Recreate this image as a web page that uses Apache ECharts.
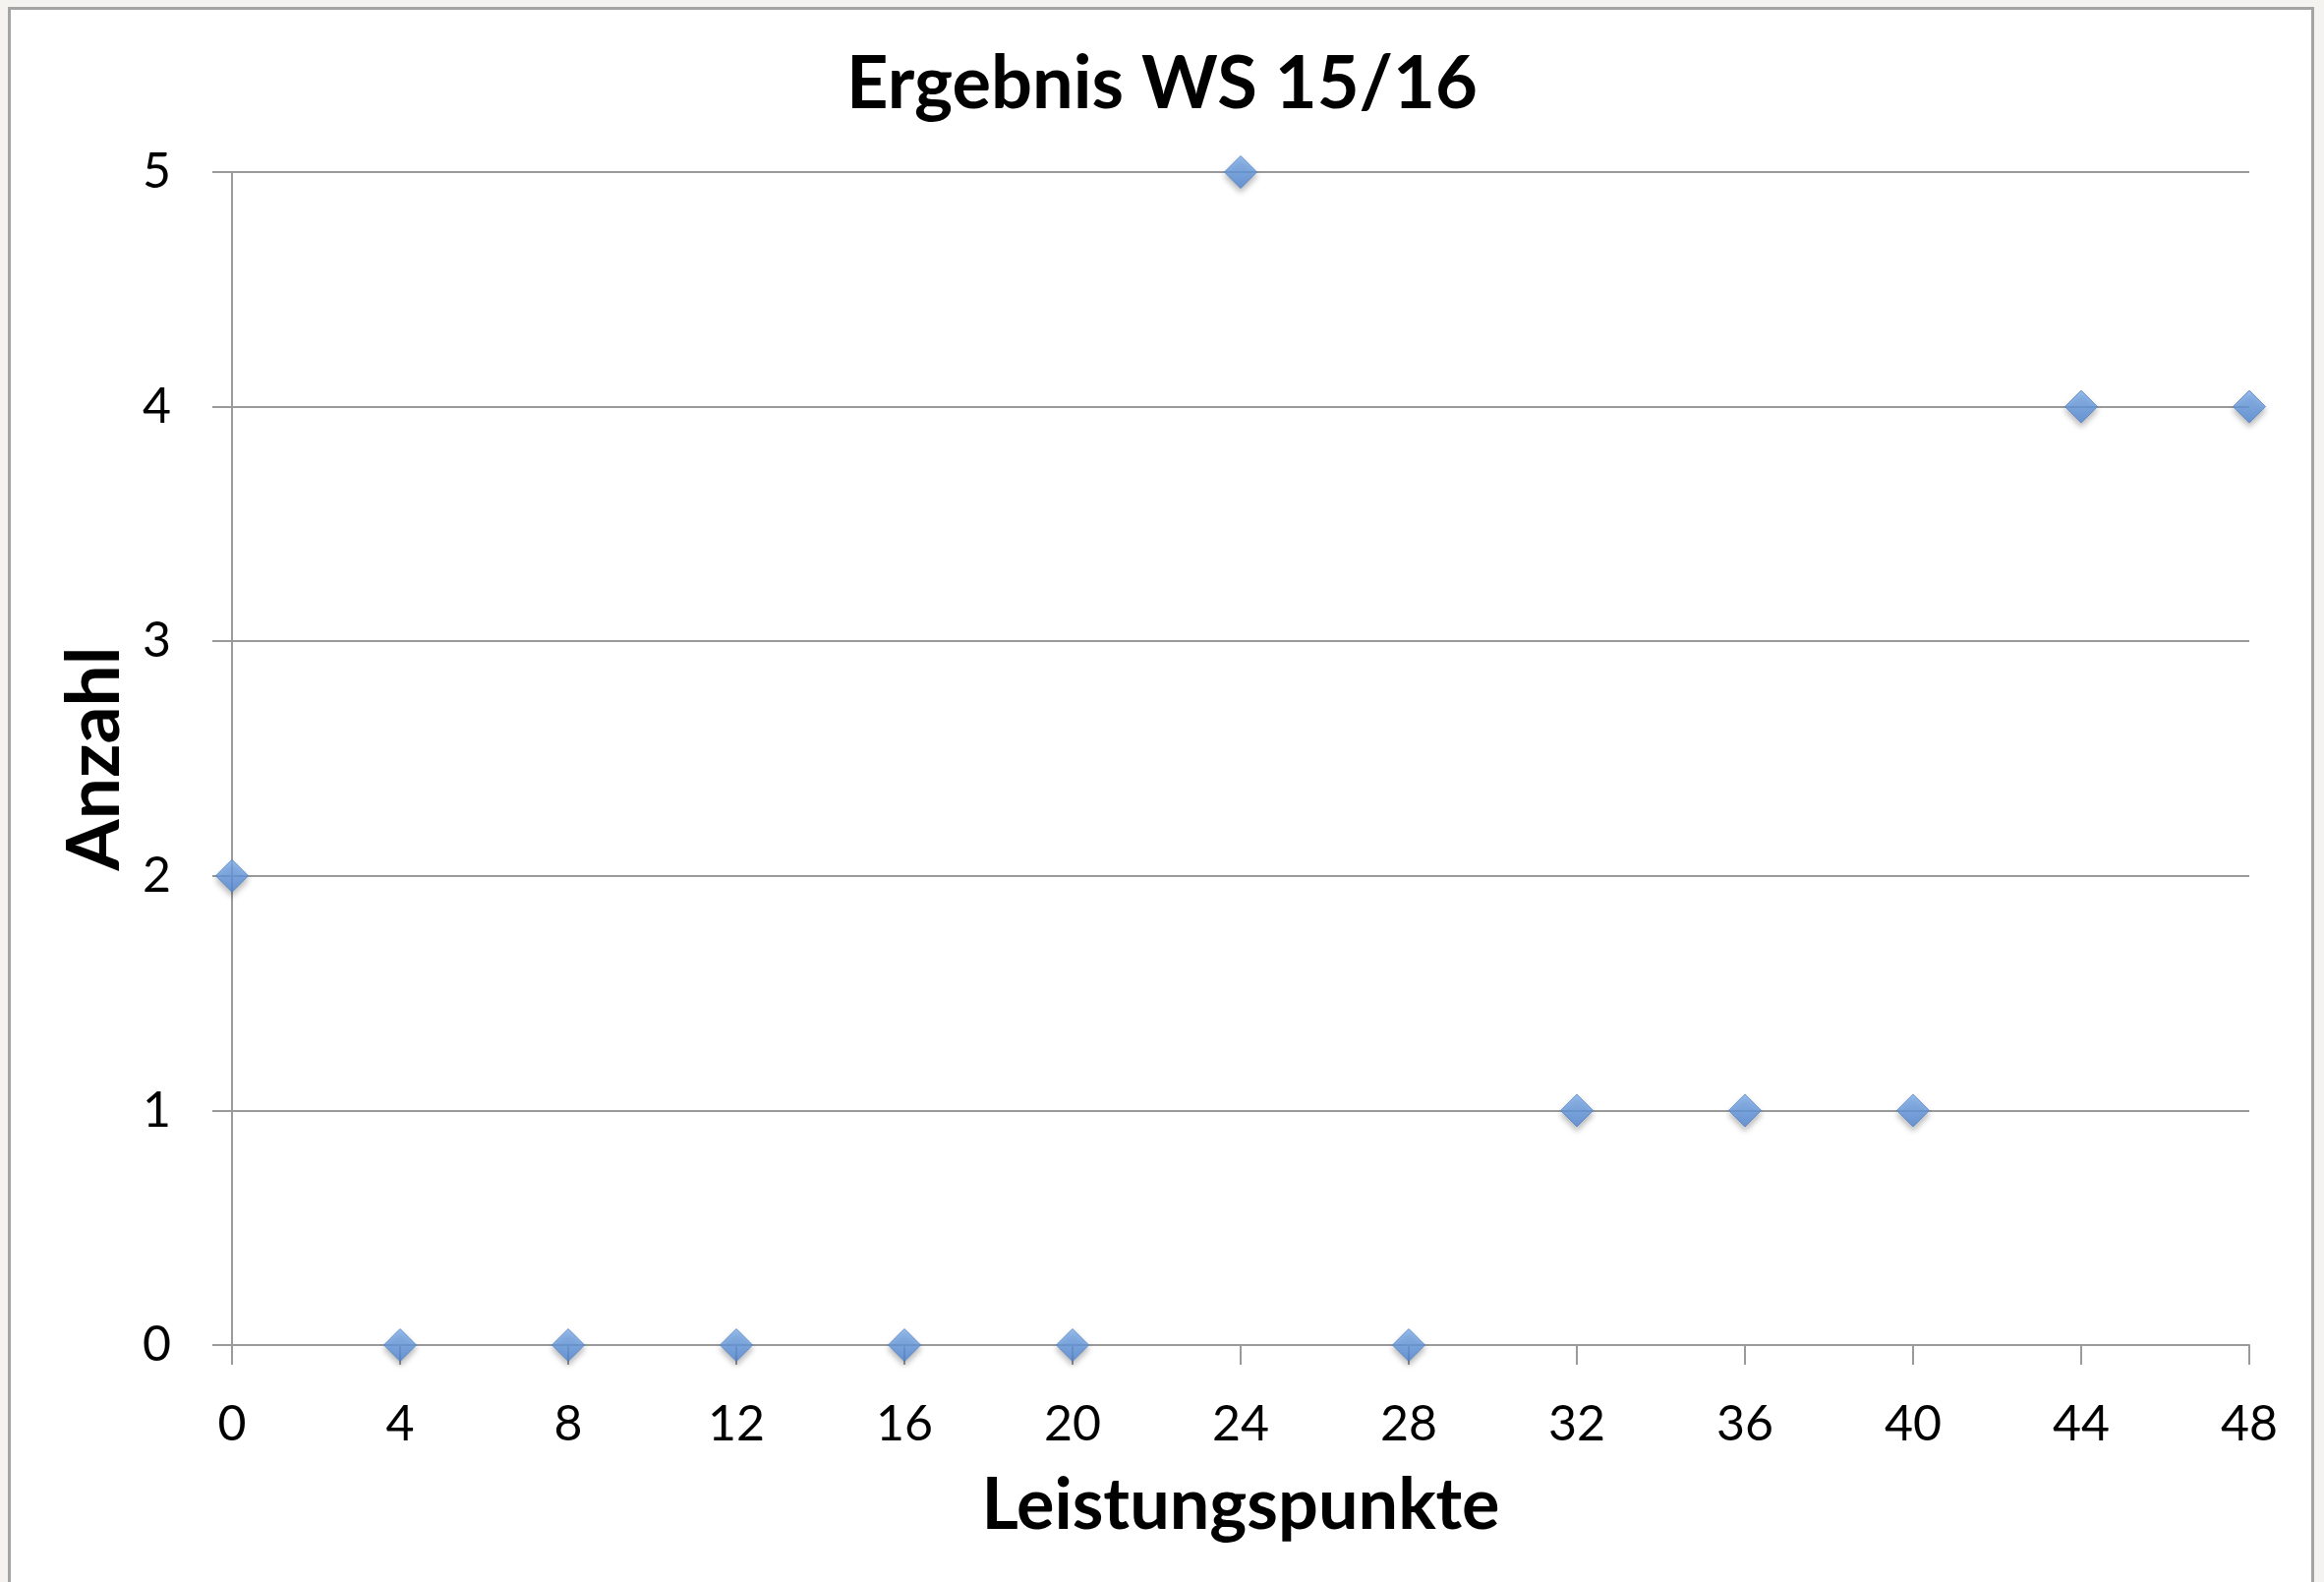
<!DOCTYPE html>
<html>
<head>
<meta charset="utf-8">
<script src="https://cdn.jsdelivr.net/npm/echarts@6/dist/echarts.min.js"></script>
<style>
html, body { margin: 0; padding: 0; background: #f4f3ef; }
#frame {
  position: absolute; left: 8px; top: 7px;
  width: 2340px; height: 1700px;
  background: #fff; border: 3px solid #a4a4a4;
}
#main { position: absolute; left: 0; top: 0; width: 2364px; height: 1609px; }
</style>
</head>
<body>
<div id="frame"></div>
<div id="main"></div>
<script>
// Leistungspunkte (x) and Anzahl (y)
var punkte = [0, 4, 8, 12, 16, 20, 24, 28, 32, 36, 40, 44, 48];
var anzahl = [2, 0, 0, 0, 0, 0, 5, 0, 1, 1, 1, 4, 4];

var titel = "Ergebnis WS 15/16";
var xName = "Leistungspunkte";
var yName = "Anzahl";

var points = punkte.map(function (p, i) { return [p, anzahl[i]]; });

var myChart = echarts.init(document.getElementById("main"));
var grau = "#9a9a9a";
var schrift = "Lato";

myChart.setOption({
  animation: false,
  title: {
    text: titel,
    left: "center",
    top: 44,
    textStyle: { fontFamily: schrift, fontSize: 74, fontWeight: "bold", color: "#000" }
  },
  grid: { left: 236, right: 76, top: 175, bottom: 241 },
  xAxis: {
    type: "value",
    min: 0,
    max: 48,
    interval: 4,
    name: xName,
    nameLocation: "middle",
    nameGap: 128,
    nameTextStyle: { fontFamily: schrift, fontSize: 72, fontWeight: "bold", color: "#000" },
    axisLine: { lineStyle: { color: grau, width: 2 } },
    axisTick: { show: true, length: 20, lineStyle: { color: grau, width: 2 } },
    axisLabel: { margin: 56, fontFamily: schrift, fontSize: 50, color: "#000" },
    splitLine: { show: false }
  },
  yAxis: {
    type: "value",
    min: 0,
    max: 5,
    interval: 1,
    name: yName,
    nameLocation: "middle",
    nameGap: 94,
    nameTextStyle: { fontFamily: schrift, fontSize: 75, fontWeight: "bold", color: "#000" },
    axisLine: { show: true, lineStyle: { color: grau, width: 2 } },
    axisTick: { show: true, length: 20, lineStyle: { color: grau, width: 2 } },
    axisLabel: { margin: 62, fontFamily: schrift, fontSize: 50, color: "#000" },
    splitLine: { show: true, lineStyle: { color: grau, width: 2 } }
  },
  series: [
    {
      type: "scatter",
      data: points,
      symbol: "diamond",
      symbolSize: [33, 33],
      itemStyle: {
        color: new echarts.graphic.LinearGradient(0, 0, 0, 1, [
          { offset: 0, color: "#7fb0ee" },
          { offset: 1, color: "#5289d8" }
        ]),
        borderColor: "#4f7fc2",
        borderWidth: 1,
        shadowBlur: 6,
        shadowOffsetY: 4,
        shadowColor: "rgba(0,0,0,0.35)"
      }
    }
  ]
});
</script>
</body>
</html>
